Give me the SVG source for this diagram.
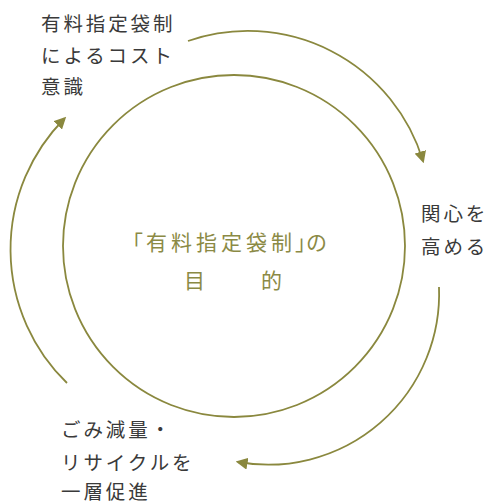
<svg xmlns="http://www.w3.org/2000/svg" width="488" height="503" viewBox="0 0 488 503">
<style>
.lbl{font-family:"Noto Sans CJK JP","Noto Sans",sans-serif;font-size:19.5px;fill:#3a3a3a;letter-spacing:2.9px}
.ctr{font-family:"Noto Sans CJK JP","Noto Sans",sans-serif;font-size:21px;fill:#8b8a45}
.ln{fill:none;stroke:#8a883e;stroke-width:1.8}
</style>
<defs>
<marker id="ah" markerUnits="userSpaceOnUse" markerWidth="12" markerHeight="12" refX="8" refY="5" orient="auto" viewBox="0 0 10 10">
<path d="M0,0 L10,5 L0,10 z" fill="#8a883e"/>
</marker>
</defs>
<g id="center">
<circle class="ln" cx="234" cy="246" r="171"/>
<text class="ctr" x="122 146 171 196 221 246 271 295 306" y="250">「有料指定袋制」の</text>
<text class="ctr" y="288"><tspan x="184">目</tspan><tspan x="261">的</tspan></text>
</g>
<g id="cost">
<text class="lbl" x="41" y="31">有料指定袋制</text>
<text class="lbl" x="41" y="63">によるコスト</text>
<text class="lbl" x="41" y="94">意識</text>
</g>
<g id="interest">
<text class="lbl" x="421" y="221">関心を</text>
<text class="lbl" x="421" y="254">高める</text>
</g>
<g id="reduce">
<text class="lbl" x="61" y="437">ごみ減量・</text>
<text class="lbl" x="61" y="470">リサイクルを</text>
<text class="lbl" x="61" y="499">一層促進</text>
</g>
<g id="connectors">
<path class="ln" d="M188,41 A183,183 0 0 1 423,161" marker-end="url(#ah)"/>
<path class="ln" d="M439,287 A171,171 0 0 1 238,462" marker-end="url(#ah)"/>
<path class="ln" d="M67,383 A186,186 0 0 1 64.5,118.5" marker-end="url(#ah)"/>
</g>
</svg>
